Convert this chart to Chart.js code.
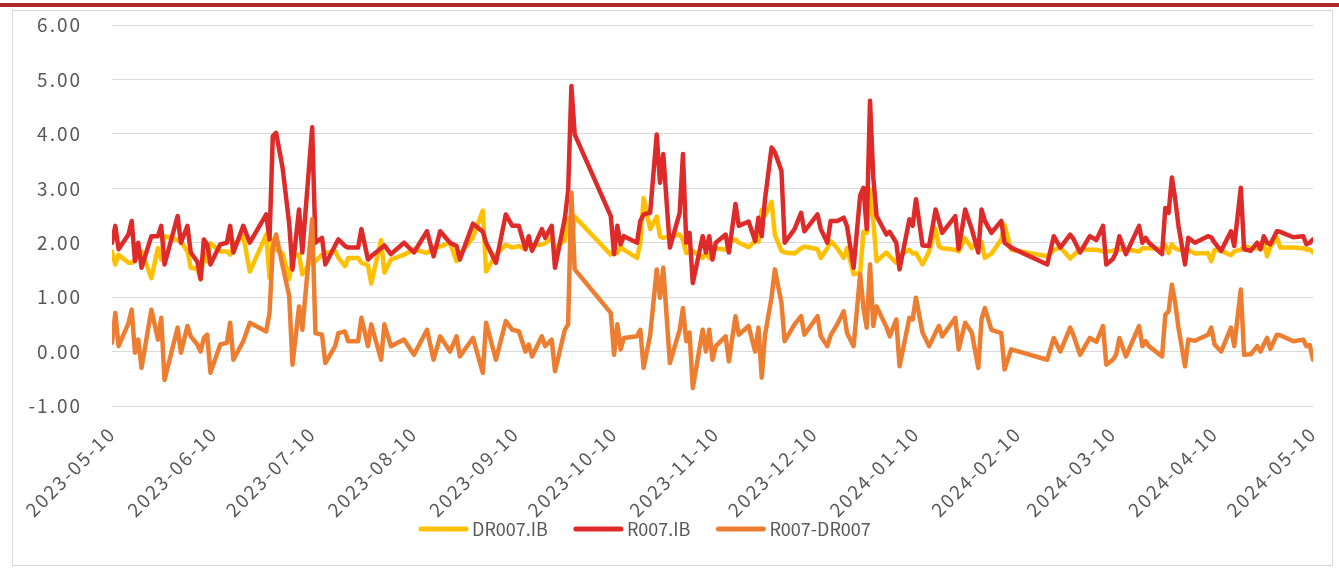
<!DOCTYPE html>
<html>
<head>
<meta charset="utf-8">
<title>DR007 / R007</title>
<script src="https://cdn.jsdelivr.net/npm/chart.js@4.4.1/dist/chart.umd.min.js"></script>
<style>
  html, body { margin: 0; padding: 0; background: #fff; }
  .page { position: relative; width: 1339px; height: 568px; overflow: hidden; }
  .top-bar { position: absolute; left: 0; top: 3px; width: 1339px; height: 4px; background: #b0262a; }
  .frame { position: absolute; left: 12px; top: 10px; width: 1321px; height: 556px; border: 1px solid #d9d9d9; box-sizing: border-box; }
  canvas { position: absolute; left: 0; top: 0; }
</style>
</head>
<body>
<div class="page">
  <div class="top-bar"></div>
  <div class="frame"></div>
  <canvas id="myChart" width="1339" height="568"></canvas>
</div>
<script>
"use strict";

//////////////////////////////
// Data (x = days since 2023-05-10)
const startDate = "2023-05-10";
const tickLabels = [
  "2023-05-10", "2023-06-10", "2023-07-10", "2023-08-10", "2023-09-10", "2023-10-10", "2023-11-10",
  "2023-12-10", "2024-01-10", "2024-02-10", "2024-03-10", "2024-04-10", "2024-05-10",
];
const yTicks = [-1, 0, 1, 2, 3, 4, 5, 6];

const days = [
  0, 1, 2, 5, 6, 7, 8, 9, 12, 14, 15, 16, 20, 21, 23, 24, 26, 27, 28, 29, 30, 33, 35, 36, 37, 40, 42, 47, 48, 49, 50, 52, 54, 55, 57, 58,
  61, 62, 64, 65, 68, 69, 71, 72, 75, 76, 78, 79, 82, 83, 85, 89, 92, 96, 98, 100, 103, 105, 106, 110, 113, 114, 117, 120,
  122, 124, 126, 127, 128, 131, 132, 134, 135, 138, 139, 140, 141, 152, 153, 154, 155, 156, 160, 161, 162, 164, 166, 167, 168, 170, 173, 174, 175, 176, 177, 180, 181,
  182, 183, 184, 187, 188, 190, 191, 194, 196, 197, 198, 199, 201, 202, 204, 205, 208, 210, 211, 215, 216, 218, 219, 221, 223, 224, 226, 228, 229, 230, 231, 232, 233, 236, 237, 239, 240, 243,
  244, 245, 247, 249, 251, 252, 253, 257, 258, 260, 262, 264, 265, 266, 268, 271, 272, 274, 285, 287, 289, 292, 293, 295, 298, 300, 302, 303,
  305, 306, 307, 309, 313, 314, 315, 316, 320, 321, 322, 323, 324, 325, 327, 328, 330, 334, 335, 336, 338, 341, 342, 344, 345, 347, 349, 350, 351, 352, 353, 355, 356, 360, 363, 364, 365, 366,
];

const dr007 = [
  1.84, 1.60, 1.78, 1.63, 1.63, 1.68, 1.78, 1.84, 1.35, 1.90, 1.69, 2.12, 2.05, 2.02, 1.84, 1.54, 1.52, 1.33, 1.81, 1.66, 1.99, 1.84, 1.84, 1.78, 1.97, 2.12, 1.47, 2.15, 1.35, 2.06, 1.87, 1.80, 1.33, 1.75, 1.78, 1.42,
  1.69, 1.66, 1.78, 1.81, 1.85, 1.72, 1.57, 1.72, 1.72, 1.63, 1.59, 1.25, 2.05, 1.45, 1.69, 1.78, 1.88, 1.81, 1.90, 1.93, 2.00, 1.66, 1.78, 2.10, 2.59, 1.47, 1.78, 1.96,
  1.91, 1.94, 1.88, 1.99, 1.94, 1.97, 1.99, 2.09, 1.90, 2.05, 2.45, 1.96, 2.48, 1.78, 1.85, 1.81, 1.93, 1.87, 1.72, 2.00, 2.82, 2.25, 2.48, 2.11, 2.09, 2.12, 2.15, 2.05, 1.81, 1.83, 1.85, 1.72, 1.82,
  1.72, 1.84, 1.90, 1.87, 2.00, 2.06, 2.00, 1.92, 2.03, 2.02, 2.60, 2.50, 2.75, 2.15, 1.85, 1.82, 1.80, 1.90, 1.93, 1.88, 1.72, 1.90, 2.03, 1.90, 1.72, 1.90, 1.42, 1.45, 2.20, 2.18, 2.98, 2.40, 1.66, 1.82, 1.75, 1.63, 1.78, 1.87,
  1.80, 1.81, 1.60, 1.84, 2.26, 1.93, 1.90, 1.87, 1.84, 2.08, 1.90, 2.05, 2.01, 1.72, 1.80, 2.06, 2.33, 1.87, 1.75, 1.87, 1.91, 1.71, 1.77, 1.88, 1.87, 1.87, 1.84, 1.84,
  1.85, 1.88, 1.87, 1.88, 1.84, 1.90, 1.90, 1.90, 1.88, 1.96, 1.81, 1.97, 1.90, 1.87, 1.87, 1.87, 1.80, 1.81, 1.66, 1.87, 1.85, 1.77, 1.84, 1.87, 1.94, 1.90, 1.90, 1.88, 1.99, 1.75, 1.92, 2.10, 1.91, 1.91, 1.90, 1.87, 1.88, 1.82,
];

const r007 = [
  2.00, 2.31, 1.88, 2.15, 2.40, 1.66, 2.00, 1.54, 2.12, 2.12, 2.31, 1.60, 2.49, 2.00, 2.31, 1.82, 1.65, 1.33, 2.06, 1.97, 1.60, 1.97, 2.00, 2.31, 1.82, 2.31, 2.00, 2.52, 2.06, 3.96, 4.02, 3.37, 2.35, 1.51, 2.61, 1.82,
  4.12, 2.00, 2.09, 1.60, 1.95, 2.06, 1.94, 1.91, 1.91, 2.25, 1.69, 1.75, 1.90, 1.95, 1.79, 2.00, 1.82, 2.21, 1.75, 2.21, 2.00, 1.94, 1.69, 2.35, 2.20, 2.00, 1.63, 2.52,
  2.31, 2.31, 1.88, 2.12, 1.85, 2.25, 2.09, 2.31, 1.54, 2.45, 2.95, 4.88, 3.99, 2.49, 1.79, 2.31, 1.97, 2.12, 2.00, 2.40, 2.52, 2.55, 3.99, 3.10, 3.63, 1.91, 2.55, 3.63, 2.00, 2.18, 1.26, 2.12, 1.82,
  2.12, 1.69, 2.00, 2.15, 1.82, 2.71, 2.31, 2.39, 2.03, 2.46, 2.12, 2.80, 3.75, 3.66, 3.32, 2.00, 2.25, 2.55, 2.21, 2.52, 2.25, 2.00, 2.40, 2.40, 2.46, 2.30, 1.54, 2.87, 3.01, 2.25, 4.61, 3.20, 2.49, 2.15, 2.20, 2.00, 1.51, 2.43,
  2.31, 2.80, 1.95, 1.94, 2.61, 2.40, 2.18, 2.49, 1.88, 2.61, 2.25, 1.82, 2.61, 2.40, 2.18, 2.40, 2.00, 1.91, 1.60, 2.12, 1.91, 2.15, 2.07, 1.82, 2.12, 2.05, 2.31, 1.60,
  1.70, 1.82, 2.12, 1.79, 2.31, 2.00, 2.09, 2.00, 1.79, 2.64, 2.55, 3.20, 2.80, 2.31, 1.60, 2.09, 2.00, 2.12, 2.10, 2.00, 1.85, 2.21, 1.94, 3.01, 1.88, 1.85, 2.00, 1.88, 2.12, 2.00, 1.97, 2.21, 2.20, 2.10, 2.12, 1.97, 2.00, 2.06,
];

const spread = [
  0.16, 0.71, 0.10, 0.52, 0.77, -0.02, 0.22, -0.30, 0.77, 0.22, 0.62, -0.52, 0.44, -0.02, 0.47, 0.28, 0.13, 0.00, 0.25, 0.31, -0.39, 0.13, 0.16, 0.53, -0.15, 0.19, 0.53, 0.37, 0.71, 1.90, 2.15, 1.57, 1.02, -0.24, 0.83, 0.40,
  2.43, 0.34, 0.31, -0.21, 0.10, 0.34, 0.37, 0.19, 0.19, 0.62, 0.10, 0.50, -0.15, 0.50, 0.10, 0.22, -0.06, 0.40, -0.15, 0.28, 0.00, 0.28, -0.09, 0.25, -0.39, 0.53, -0.15, 0.56,
  0.40, 0.37, 0.00, 0.13, -0.09, 0.28, 0.10, 0.22, -0.36, 0.40, 0.50, 2.92, 1.51, 0.71, -0.06, 0.50, 0.04, 0.25, 0.28, 0.40, -0.30, 0.30, 1.51, 0.99, 1.54, -0.21, 0.40, 0.80, 0.19, 0.35, -0.67, 0.40, 0.00,
  0.40, -0.15, 0.10, 0.28, -0.18, 0.65, 0.31, 0.47, 0.00, 0.44, -0.48, 0.30, 1.00, 1.51, 0.90, 0.19, 0.50, 0.65, 0.31, 0.65, 0.28, 0.10, 0.30, 0.50, 0.74, 0.34, 0.10, 1.42, 0.80, 0.44, 1.60, 0.47, 0.83, 0.45, 0.28, 0.59, -0.27, 0.62,
  0.59, 0.99, 0.35, 0.10, 0.35, 0.47, 0.28, 0.62, 0.04, 0.53, 0.35, -0.30, 0.60, 0.80, 0.40, 0.34, -0.33, 0.04, -0.15, 0.25, 0.00, 0.44, 0.30, -0.06, 0.25, 0.18, 0.47, -0.24,
  -0.15, -0.06, 0.25, -0.09, 0.47, 0.10, 0.19, 0.10, -0.09, 0.68, 0.74, 1.23, 0.90, 0.44, -0.27, 0.22, 0.20, 0.31, 0.44, 0.13, 0.00, 0.44, 0.10, 1.14, -0.06, -0.05, 0.10, 0.00, 0.13, 0.25, 0.05, 0.31, 0.30, 0.19, 0.22, 0.10, 0.12, -0.15,
];

const seriesNames = ["DR007.IB", "R007.IB", "R007-DR007"];
const seriesColors = ["#ffc000", "#df2a2a", "#ed7d31"];

//////////////////////////////
// Helpers
const dayMs = 24 * 60 * 60 * 1000;
const dayOffset = (s) => Math.round((Date.parse(s) - Date.parse(startDate)) / dayMs);
const tickDays = tickLabels.map(dayOffset);
const toPoints = (values) => days.map((d, i) => ({ x: d, y: values[i] }));

const textColor = "#595959";
const tickFont = { family: "'Noto Sans CJK SC', 'Noto Sans', sans-serif", size: 19 };

// the original axis font sets its digits wide apart; canvas resizing wipes ctx state, so set it per draw
const spacedText = {
  id: "spacedText",
  beforeDraw(chart) {
    chart.ctx.letterSpacing = "2px";
  },
};

// Legend drawn by hand so it can sit over the rotated date labels like the original
const bottomLegend = {
  id: "bottomLegend",
  afterDraw(chart) {
    const ctx = chart.ctx;
    const y = 529;
    let x = 421;
    ctx.save();
    ctx.letterSpacing = "0px";
    ctx.font = "18px 'Noto Sans CJK SC', 'Noto Sans', sans-serif";
    ctx.textBaseline = "middle";
    ctx.fillStyle = textColor;
    chart.data.datasets.forEach((ds) => {
      ctx.strokeStyle = ds.borderColor;
      ctx.lineWidth = 5;
      ctx.lineCap = "round";
      ctx.beginPath();
      ctx.moveTo(x, y);
      ctx.lineTo(x + 45, y);
      ctx.stroke();
      x += 51;
      ctx.fillText(ds.label, x, y);
      x += ctx.measureText(ds.label).width + 28;
    });
    ctx.restore();
  },
};

//////////////////////////////
// Chart
const canvas = document.getElementById("myChart");
const ctx = canvas.getContext("2d");

const lineStyle = {
  borderWidth: 4.5,
  pointRadius: 0,
  tension: 0,
  borderJoinStyle: "round",
  borderCapStyle: "round",
};

new Chart(ctx, {
  type: "line",
  data: {
    datasets: [
      { label: seriesNames[0], data: toPoints(dr007), borderColor: seriesColors[0], order: 2, ...lineStyle },
      { label: seriesNames[1], data: toPoints(r007), borderColor: seriesColors[1], order: 1, ...lineStyle },
      { label: seriesNames[2], data: toPoints(spread), borderColor: seriesColors[2], order: 0, ...lineStyle },
    ],
  },
  options: {
    responsive: false,
    animation: false,
    layout: { padding: { left: 12, right: 26, top: 25, bottom: 0 } },
    plugins: {
      legend: { display: false },
      tooltip: { enabled: false },
    },
    scales: {
      x: {
        type: "linear",
        min: 0,
        max: tickDays[tickDays.length - 1],
        afterBuildTicks: (scale) => {
          scale.ticks = tickDays.map((v) => ({ value: v }));
        },
        afterFit: (scale) => {
          scale.height = 162;
        },
        ticks: {
          autoSkip: false,
          minRotation: 45,
          maxRotation: 45,
          padding: 8,
          color: textColor,
          font: tickFont,
          callback: (value, index) => tickLabels[index],
        },
        grid: { display: false },
        border: { display: false },
      },
      y: {
        min: yTicks[0],
        max: yTicks[yTicks.length - 1],
        afterBuildTicks: (scale) => {
          scale.ticks = yTicks.map((v) => ({ value: v }));
        },
        afterFit: (scale) => {
          scale.width = 100;
        },
        ticks: {
          padding: 2,
          color: textColor,
          font: tickFont,
          callback: (value) => value.toFixed(2),
        },
        grid: { color: "#d9d9d9", lineWidth: 1, drawTicks: true, tickLength: 28, tickColor: "rgba(0,0,0,0)" },
        border: { display: false },
      },
    },
  },
  plugins: [spacedText, bottomLegend],
});
</script>
</body>
</html>
